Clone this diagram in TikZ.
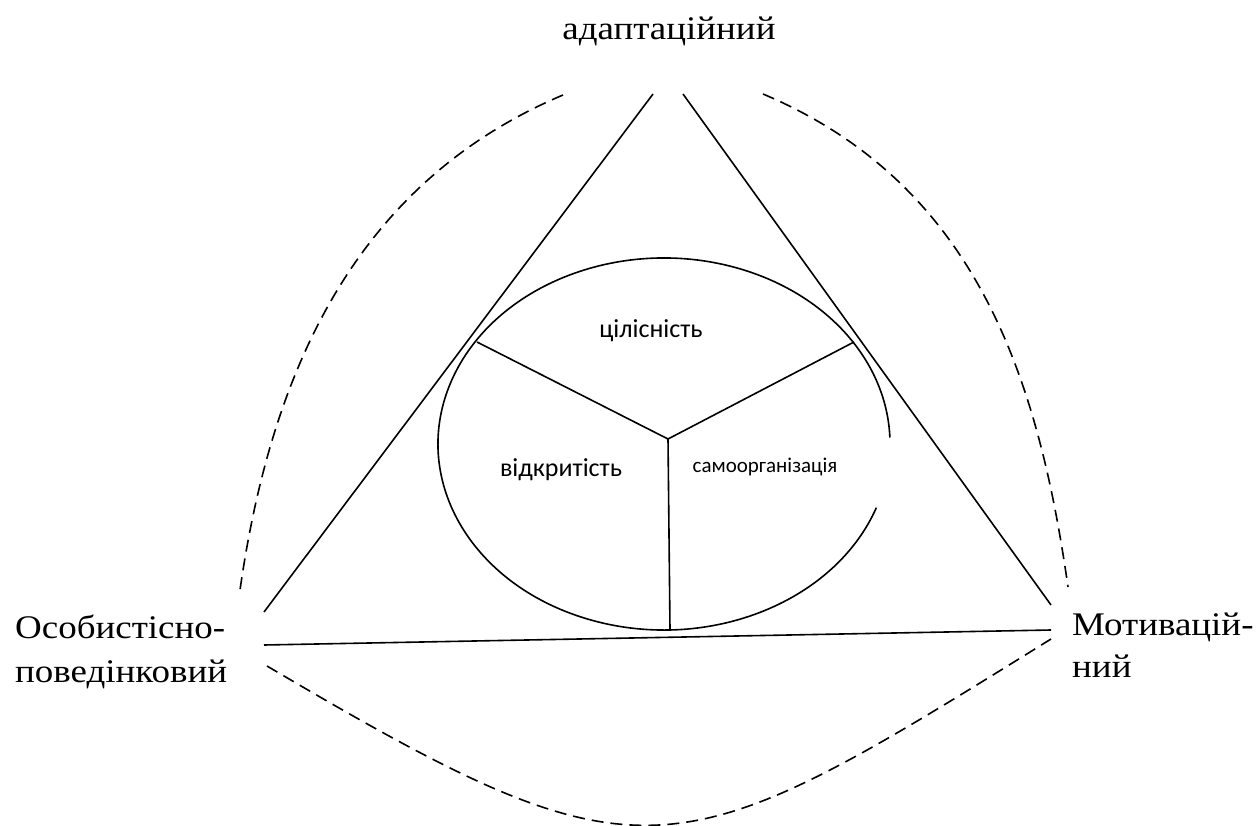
\documentclass[tikz,border=0pt]{standalone}
\usepackage{fontspec}
\newfontfamily\serifw[FakeStretch=1.12]{Liberation Serif}
\newfontfamily\sansw{Carlito}
\begin{document}
\begin{tikzpicture}[x=1pt,y=-1pt,
  solidline/.style={line width=1.6pt},
  dashline/.style={line width=1.6pt, dash pattern=on 12pt off 7pt},
  biglabel/.style={inner sep=0pt, font=\serifw\fontsize{33}{40}\selectfont},
  inlabel/.style={inner sep=0pt, font=\sansw\fontsize{26}{30}\selectfont},
  smalllabel/.style={inner sep=0pt, font=\sansw\fontsize{21}{25}\selectfont}]
\useasboundingbox (0,0) rectangle (1257,826);
% triangle corners
\coordinate (apexL) at (653,94);
\coordinate (apexR) at (683,94);
\coordinate (leftA) at (264,612);
\coordinate (leftB) at (264,645);
\coordinate (rightA) at (1051,605);
\coordinate (rightB) at (1051,630);
% dashed ends
\coordinate (tlS) at (563,95);
\coordinate (tlE) at (240,590);
\coordinate (trS) at (763,94);
\coordinate (trE) at (1068,587);
\coordinate (bS) at (267,666);
\coordinate (bE) at (1051,639);
% ellipse
\coordinate (c) at (664,444);
\coordinate (hub) at (668,439);
\coordinate (spL) at (477,342);
\coordinate (spR) at (854,342);
\coordinate (spB) at (670,630);

\draw[solidline] (apexL) -- (leftA);
\draw[solidline] (apexR) -- (rightA);
\draw[solidline] (leftB) -- (rightB);

\draw[dashline] (tlS) .. controls (350,185) and (270,380) .. (tlE);
\draw[dashline] (trS) .. controls (976,184) and (1038,377) .. (trE);
\draw[dashline] (bS) .. controls (647,890) and (671,875) .. (bE);

\draw[solidline] ([shift={(20:226 and 186)}]c) arc[start angle=20, end angle=358, x radius=226, y radius=186];
\draw[solidline] (hub) -- (spL);
\draw[solidline] (hub) -- (spR);
\draw[solidline] (hub) -- (spB);

\node[biglabel, anchor=base] (top) at (669,40) {адаптаційний};
\node[biglabel, anchor=base west] (l1) at (15,638) {Особистісно-};
\node[biglabel, anchor=base west] (l2) at (15,682) {поведінковий};
\node[biglabel, anchor=base west] (r1) at (1072,635) {Мотивацій-};
\node[biglabel, anchor=base west] (r2) at (1072,677) {ний};

\node[inlabel] (t1) at (651,331) {цілісність};
\node[inlabel] (t2) at (561,470) {відкритість};
\node[smalllabel] (t3) at (765,467) {самоорганізація};
\end{tikzpicture}
\end{document}
